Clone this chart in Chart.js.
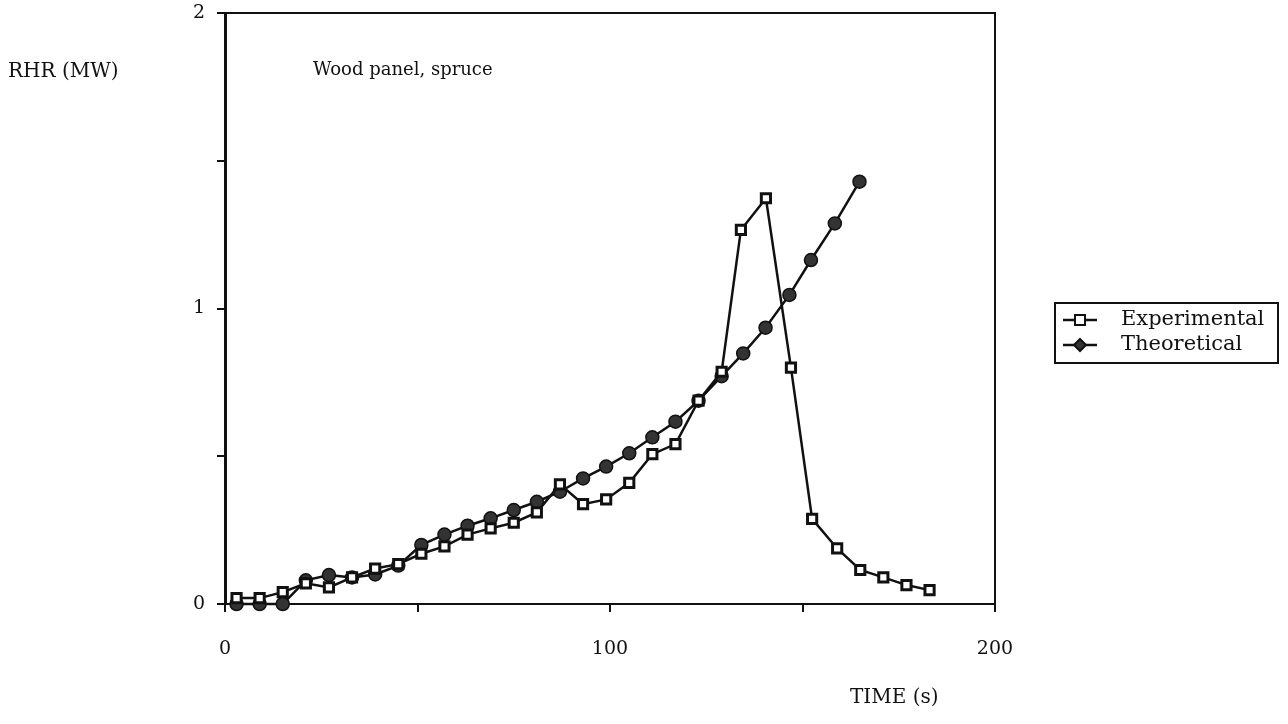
<!DOCTYPE html>
<html>
<head>
<meta charset="utf-8">
<script src="https://cdn.jsdelivr.net/npm/chart.js@4.4.0/dist/chart.umd.min.js"></script>
<style>
  html, body { margin: 0; padding: 0; background: #fff; }
  #wrap { width: 1288px; height: 724px; }
</style>
</head>
<body>
<div id="wrap"><canvas id="rhrChart" width="1288" height="724"></canvas></div>
<script>
// values
const expTime = [3, 9, 15, 21, 27, 33, 39, 45, 51, 57, 63, 69, 75, 81, 87, 93, 99, 105, 111, 117, 123, 129, 134, 140.5, 147, 152.5, 159, 165, 171, 177, 183];
const expRhr  = [0.02, 0.02, 0.04, 0.07, 0.056, 0.09, 0.12, 0.135, 0.17, 0.195, 0.235, 0.256, 0.275, 0.31, 0.405, 0.338, 0.354, 0.41, 0.507, 0.541, 0.688, 0.786, 1.266, 1.373, 0.80, 0.288, 0.188, 0.115, 0.09, 0.064, 0.047];
const theoTime = [3, 9, 15, 21, 27, 33, 39, 45, 51, 57, 63, 69, 75, 81, 87, 93, 99, 105, 111, 117, 123, 129, 134.6, 140.4, 146.6, 152.2, 158.4, 164.8];
const theoRhr  = [0, 0, 0, 0.08, 0.098, 0.09, 0.1, 0.13, 0.2, 0.235, 0.265, 0.29, 0.318, 0.346, 0.38, 0.425, 0.465, 0.51, 0.564, 0.617, 0.688, 0.771, 0.848, 0.935, 1.046, 1.164, 1.288, 1.429];
const xTickLabels = [0, 100, 200];
const yTickLabels = [0, 1, 2];
const seriesNames = ['Experimental', 'Theoretical'];

const serif = "'DejaVu Serif', 'Liberation Serif', serif";
const ink = '#111';

function toPoints(xs, ys) {
    return xs.map((x, i) => ({ x: x, y: ys[i] }));
}

// frame, free text and the boxed legend
const decorations = {
    id: 'decorations',
    beforeDatasetsDraw(chart) {
        const { ctx, chartArea: a } = chart;
        ctx.save();
        ctx.strokeStyle = ink;
        ctx.lineWidth = 2;
        ctx.beginPath();
        ctx.moveTo(a.left, a.top);
        ctx.lineTo(a.right, a.top);
        ctx.lineTo(a.right, a.bottom);
        ctx.stroke();
        ctx.restore();
    },
    afterDraw(chart) {
        const { ctx } = chart;
        ctx.save();
        ctx.fillStyle = ink;
        ctx.textBaseline = 'middle';
        ctx.textAlign = 'left';
        ctx.font = '20px ' + serif;
        ctx.fillText('RHR (MW)', 8, 72);
        ctx.font = '18px ' + serif;
        ctx.fillText('Wood panel, spruce', 313, 70);
        ctx.font = '20px ' + serif;
        ctx.fillText('TIME (s)', 850, 698);

        // legend box
        const bx = 1055, by = 303, bw = 223, bh = 60;
        ctx.strokeStyle = ink;
        ctx.lineWidth = 2;
        ctx.strokeRect(bx, by, bw, bh);
        const rows = [by + 17, by + 42];
        rows.forEach((ry, i) => {
            ctx.lineWidth = 2.5;
            ctx.beginPath();
            ctx.moveTo(bx + 8, ry);
            ctx.lineTo(bx + 42, ry);
            ctx.stroke();
            ctx.lineWidth = 2;
            if (i === 0) {
                ctx.fillStyle = '#fff';
                ctx.fillRect(bx + 20, ry - 5, 10, 10);
                ctx.strokeRect(bx + 20, ry - 5, 10, 10);
            } else {
                ctx.fillStyle = '#333';
                ctx.beginPath();
                ctx.moveTo(bx + 25, ry - 6);
                ctx.lineTo(bx + 31, ry);
                ctx.lineTo(bx + 25, ry + 6);
                ctx.lineTo(bx + 19, ry);
                ctx.closePath();
                ctx.fill();
                ctx.stroke();
            }
            ctx.fillStyle = ink;
            ctx.font = '21px ' + serif;
            ctx.fillText(seriesNames[i], bx + 66, ry);
        });
        ctx.restore();
    }
};

new Chart(document.getElementById('rhrChart'), {
    type: 'line',
    data: {
        datasets: [{
            label: seriesNames[0],
            data: toPoints(expTime, expRhr),
            borderColor: ink,
            borderWidth: 2.5,
            pointStyle: 'rect',
            pointRadius: 6.5,
            pointBorderWidth: 3,
            pointBackgroundColor: '#fff',
            pointBorderColor: ink,
            tension: 0,
            clip: false
        }, {
            label: seriesNames[1],
            data: toPoints(theoTime, theoRhr),
            borderColor: ink,
            borderWidth: 2.5,
            pointStyle: 'circle',
            pointRadius: 6.5,
            pointBorderWidth: 1.5,
            pointBackgroundColor: '#333',
            pointBorderColor: ink,
            tension: 0,
            clip: false
        }]
    },
    options: {
        responsive: false,
        animation: false,
        layout: { padding: { left: 0, top: 13, right: 293, bottom: 0 } },
        plugins: {
            legend: { display: false },
            tooltip: { enabled: false }
        },
        scales: {
            x: {
                type: 'linear',
                min: 0,
                max: 200,
                afterFit: (scale) => { scale.height = 120; scale.paddingLeft = 0; scale.paddingRight = 0; },
                border: { display: true, color: ink, width: 2 },
                grid: { drawOnChartArea: false, drawTicks: true, tickLength: 8, color: ink, lineWidth: 2 },
                ticks: {
                    stepSize: 50,
                    padding: 26,
                    maxRotation: 0,
                    color: ink,
                    font: { size: 19, family: serif },
                    callback: (v) => xTickLabels.includes(v) ? String(v) : ''
                }
            },
            y: {
                min: 0,
                max: 2,
                afterFit: (scale) => { scale.width = 225; scale.paddingTop = 0; scale.paddingBottom = 0; },
                border: { display: true, color: ink, width: 3 },
                grid: { drawOnChartArea: false, drawTicks: true, tickLength: 8, color: ink, lineWidth: 2 },
                ticks: {
                    stepSize: 0.5,
                    padding: 12,
                    color: ink,
                    font: { size: 19, family: serif },
                    callback: (v) => yTickLabels.includes(v) ? String(v) : ''
                }
            }
        }
    },
    plugins: [decorations]
});
</script>
</body>
</html>
